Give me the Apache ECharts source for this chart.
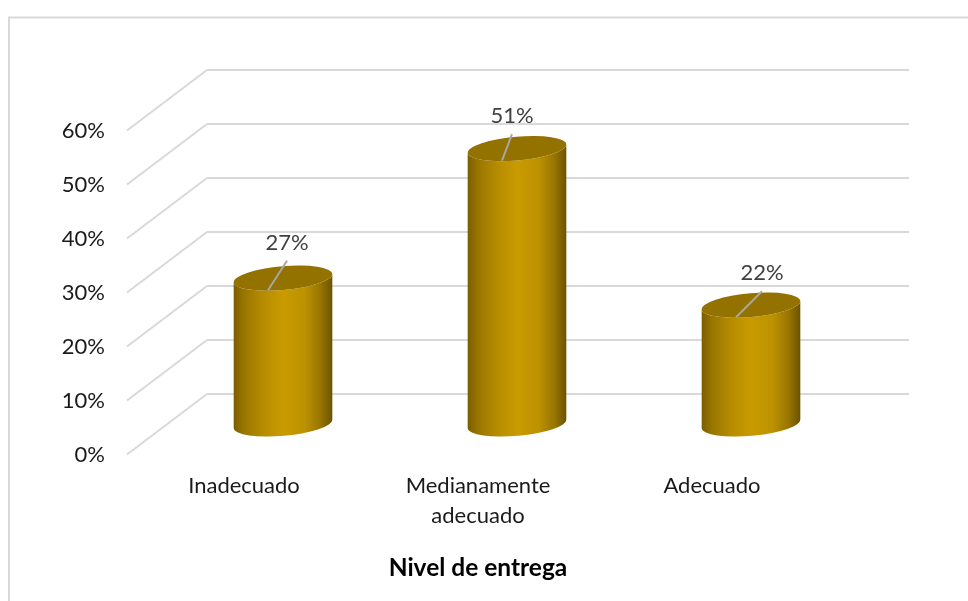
<!DOCTYPE html>
<html>
<head>
<meta charset="utf-8">
<style>html,body{margin:0;padding:0;background:#fff}#c{width:968px;height:601px}</style>
<script src="https://cdn.jsdelivr.net/npm/echarts@6/dist/echarts.min.js"></script>
</head>
<body>
<div id="c"></div>
<script>
// Nivel de entrega: share of responses per category
const categories = ['Inadecuado', 'Medianamente\nadecuado', 'Adecuado'];
const shares = [27, 51, 22];
const yTicks = [0, 10, 20, 30, 40, 50, 60];
const axisTitle = 'Nivel de entrega';

// Leader line tip and label placement, relative to each cylinder's top centre
const leaderTips = [[4, -17.5], [-5, -14.5], [11, -14]];

// Receding floor depth between the front plane and the back wall
const DEPTH_X = 80, DEPTH_Y = -60.5;
const PLANE_W = 702, PLANE_H = 324;
const GRID_COLOR = '#d9d9d9';
const FONT = 'Lato, "Open Sans", sans-serif';

const bodyFill = {
  type: 'linear', x: 0, y: 0, x2: 1, y2: 0,
  colorStops: [
    { offset: 0, color: '#7a5d00' },
    { offset: 0.1, color: '#987500' },
    { offset: 0.3, color: '#b68c00' },
    { offset: 0.5, color: '#c99b00' },
    { offset: 0.72, color: '#bd9200' },
    { offset: 0.88, color: '#977500' },
    { offset: 1, color: '#6b5200' }
  ]
};

// Cylinder whose elliptical caps are tilted slightly upward to the right
const RX = 49.5, RY = 12, TILT = 5;
function renderCylinder(params, api) {
  const catIndex = api.value(0);
  const val = api.value(1);
  const top = api.coord([catIndex, val]);
  const base = api.coord([catIndex, 0]);
  const c = Math.cos(TILT * Math.PI / 180), s = Math.sin(TILT * Math.PI / 180);
  const lx = -RX * c, ly = RX * s, rx = RX * c, ry = -RX * s;
  const p = (x, y) => x.toFixed(2) + ' ' + y.toFixed(2);
  const arc = (sweep, x, y) => `A ${RX} ${RY} ${-TILT} 0 ${sweep} ${p(x, y)}`;
  const body =
    `M ${p(top[0] + lx, top[1] + ly)} L ${p(base[0] + lx, base[1] + ly)} ` +
    arc(0, base[0] + rx, base[1] + ry) +
    ` L ${p(top[0] + rx, top[1] + ry)} ` +
    arc(1, top[0] + lx, top[1] + ly) + ' Z';
  const cap =
    `M ${p(top[0] + lx, top[1] + ly)} ` + arc(1, top[0] + rx, top[1] + ry) +
    ' ' + arc(1, top[0] + lx, top[1] + ly) + ' Z';
  const tip = leaderTips[catIndex];
  return {
    type: 'group',
    children: [
      { type: 'path', shape: { pathData: body }, style: { fill: bodyFill } },
      { type: 'path', shape: { pathData: cap }, style: { fill: '#947200' } },
      {
        type: 'line',
        shape: { x1: top[0] - 15, y1: top[1] + 12, x2: top[0] + tip[0], y2: top[1] + tip[1] },
        style: { stroke: '#a6a6a6', lineWidth: 2 }
      },
      {
        type: 'text',
        style: {
          x: top[0] + tip[0], y: top[1] + tip[1] - 18,
          text: val + '%', align: 'center', verticalAlign: 'middle',
          fill: '#404040', font: '22px ' + FONT
        }
      }
    ]
  };
}

// Diagonal floor/side lines joining each front tick to the back wall
function renderSideLine(params, api) {
  const front = api.coord([0, api.value(0)]);
  const x0 = params.coordSys.x;
  return {
    type: 'line',
    shape: { x1: x0, y1: front[1], x2: x0 + DEPTH_X, y2: front[1] + DEPTH_Y },
    style: { stroke: GRID_COLOR, lineWidth: 2 }
  };
}

const chart = echarts.init(document.getElementById('c'), null, { renderer: 'canvas' });
chart.setOption({
  animation: false,
  backgroundColor: '#fff',
  graphic: [{
    type: 'polyline',
    silent: true,
    z: -1,
    shape: { points: [[9, 601], [9, 17.5], [968, 17.5]] },
    style: { stroke: GRID_COLOR, fill: null, lineWidth: 2 }
  }],
  grid: [
    { left: 207, top: 70, width: PLANE_W, height: PLANE_H },   // back wall
    { left: 127, top: 130.5, width: PLANE_W, height: PLANE_H }, // front plane
    { left: 166, top: 100, width: PLANE_W, height: PLANE_H }   // cylinder plane
  ],
  xAxis: [
    { gridIndex: 0, type: 'category', data: categories, show: false },
    {
      gridIndex: 1, type: 'category', data: categories,
      axisLine: { show: false }, axisTick: { show: false },
      axisLabel: { margin: 16, color: '#1a1a1a', fontFamily: FONT, fontSize: 22, lineHeight: 30 },
      name: axisTitle, nameLocation: 'middle', nameGap: 101,
      nameTextStyle: { color: '#000', fontFamily: FONT, fontSize: 24.5, fontWeight: 'bold' }
    },
    { gridIndex: 2, type: 'category', data: categories, show: false }
  ],
  yAxis: [
    {
      gridIndex: 0, type: 'value', min: 0, max: 60, interval: 10,
      axisLine: { show: false }, axisTick: { show: false }, axisLabel: { show: false },
      splitLine: { show: true, lineStyle: { color: GRID_COLOR, width: 2 } }
    },
    {
      gridIndex: 1, type: 'value', min: 0, max: 60, interval: 10,
      axisLine: { show: false }, axisTick: { show: false }, splitLine: { show: false },
      axisLabel: { margin: 22, padding: [3, 0, 0, 0], color: '#1a1a1a', fontFamily: FONT, fontSize: 22, formatter: '{value}%' }
    },
    {
      gridIndex: 2, type: 'value', min: 0, max: 60, interval: 10, show: false,
      splitLine: { show: false }
    }
  ],
  series: [
    {
      type: 'custom', xAxisIndex: 1, yAxisIndex: 1,
      coordinateSystem: 'cartesian2d', z: 1, silent: true,
      renderItem: renderSideLine,
      encode: { y: 0 },
      data: yTicks.map(v => [v])
    },
    {
      type: 'custom', xAxisIndex: 2, yAxisIndex: 2,
      coordinateSystem: 'cartesian2d', z: 2, silent: true,
      renderItem: renderCylinder,
      encode: { x: 0, y: 1 },
      data: shares.map((v, i) => [i, v])
    }
  ]
});
</script>
</body>
</html>
